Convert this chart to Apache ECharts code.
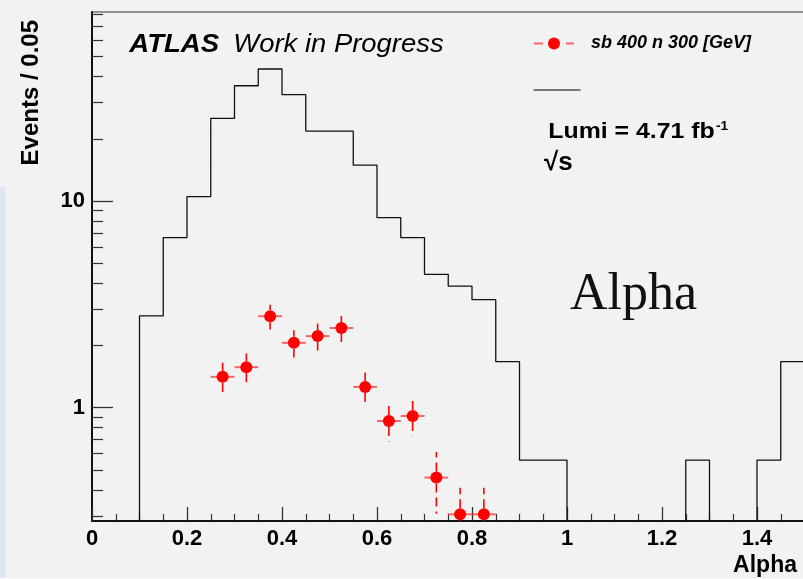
<!DOCTYPE html>
<html>
<head>
<meta charset="utf-8">
<script src="https://cdn.jsdelivr.net/npm/echarts@6/dist/echarts.min.js"></script>
<style>
html, body { margin: 0; padding: 0; background: #f2f2f2; }
#chart { width: 803px; height: 579px; }
</style>
</head>
<body>
<div id="chart"></div>
<script>
// Background histogram of Alpha: 0.05-wide bins starting at 0.1
const binStart = 0.1;
const binWidth = 0.05;
const bgCounts = [2.78, 6.65, 10.5, 25.1, 36.1, 43.5, 32.7, 21.8, 21.8, 14.9,
                  8.3, 6.65, 4.42, 3.87, 3.33, 1.67, 0.557, 0.557, 0, 0,
                  0, 0, 0, 0.557, 0, 0, 0.557, 1.67];

// Signal points (sb 400, n 300): bin centres, yields and errors
const sigX   = [0.275, 0.325, 0.375, 0.425, 0.475, 0.525, 0.575, 0.625, 0.675, 0.725, 0.775, 0.825];
const sigY   = [1.41, 1.57, 2.77, 2.06, 2.22, 2.43, 1.26, 0.862, 0.912, 0.459, 0.305, 0.305];
const sigErr = [0.24, 0.26, 0.38, 0.31, 0.33, 0.35, 0.22, 0.175, 0.184, 0.152, 0.105, 0.105];

// Axis ticks
const xLabelTicks = [0, 0.2, 0.4, 0.6, 0.8, 1, 1.2, 1.4];
const yMajorTicks = [1, 10];
const yMinorTicks = [0.3, 0.4, 0.5, 0.6, 0.7, 0.8, 0.9, 2, 3, 4, 5, 6, 7, 8, 9,
                     20, 30, 40, 50, 60, 70, 80];

const xMin = 0, xMax = 1.5;
const yMin = 0.283, yMax = 82.1;

const sigName = 'sb 400 n 300 [GeV]';
const bkgName = 'background';
const sansFont = '"Liberation Sans", Arial, sans-serif';

// minor x ticks every bin width, skipping labelled ones
const xMinorTicks = [];
for (let k = 1; k * binWidth < xMax - 1e-9; k++) {
  const v = +(k * binWidth).toFixed(3);
  if (!xLabelTicks.some(t => Math.abs(t - v) < 1e-9)) xMinorTicks.push(v);
}

// step outline; empty bins drop below the axis and are clipped
const histFloor = 0.1;
const histLine = [[binStart, histFloor]];
bgCounts.forEach((v, i) => {
  histLine.push([+(binStart + i * binWidth).toFixed(3), v > 0 ? v : histFloor]);
});
histLine.push([+(binStart + bgCounts.length * binWidth).toFixed(3),
               bgCounts[bgCounts.length - 1] > 0 ? bgCounts[bgCounts.length - 1] : histFloor]);

const xErrHalf = binWidth / 2;
const markerR = 6;

const chart = echarts.init(document.getElementById('chart'), null, { renderer: 'canvas' });

const option = {
  backgroundColor: '#f2f2f2',
  animation: false,
  grid: {
    left: 92, top: 12, width: 712.5, height: 509,
    show: true, borderColor: '#333', borderWidth: 1, backgroundColor: 'transparent',
    containLabel: false, outerBoundsMode: 'none'
  },
  xAxis: [
    {
      type: 'value', min: xMin, max: xMax, position: 'bottom',
      axisLine: { show: true, lineStyle: { color: '#111', width: 2 } },
      axisTick: { show: true, inside: true, length: 14, customValues: xLabelTicks,
                  lineStyle: { color: '#333', width: 1.3 } },
      axisLabel: { show: true, customValues: xLabelTicks, margin: 7, color: '#000',
                   fontFamily: sansFont, fontWeight: 'bold', fontSize: 22,
                   formatter: v => String(+v.toFixed(2)) },
      splitLine: { show: false },
      minorTick: { show: false },
      name: 'Alpha', nameLocation: 'end', nameGap: -7.5, nameMoveOverlap: false,
      nameTextStyle: { fontFamily: sansFont, fontWeight: 'bold', fontSize: 23, color: '#000',
                       align: 'right', verticalAlign: 'top', padding: [33, 0, 0, 0] }
    },
    {
      type: 'value', min: xMin, max: xMax, position: 'bottom', offset: 0,
      axisLine: { show: false },
      axisTick: { show: true, inside: true, length: 7, customValues: xMinorTicks,
                  lineStyle: { color: '#333', width: 1.2 } },
      axisLabel: { show: false },
      splitLine: { show: false }
    }
  ],
  yAxis: [
    {
      type: 'log', logBase: 10, min: yMin, max: yMax, position: 'left',
      axisLine: { show: true, lineStyle: { color: '#111', width: 2 } },
      axisTick: { show: true, inside: true, length: 21, customValues: yMajorTicks,
                  lineStyle: { color: '#333', width: 1.3 } },
      axisLabel: { show: true, customValues: yMajorTicks, margin: 7, color: '#000',
                   fontFamily: sansFont, fontWeight: 'bold', fontSize: 22,
                   padding: [6, 0, 0, 0], formatter: v => String(v) },
      splitLine: { show: false },
      minorTick: { show: false },
      name: 'Events / 0.05', nameLocation: 'end', nameRotate: 90, nameGap: -8,
      nameMoveOverlap: false,
      nameTextStyle: { fontFamily: sansFont, fontWeight: 'bold', fontSize: 24, color: '#000',
                       align: 'right', verticalAlign: 'bottom', padding: [0, 0, 49, 0] }
    },
    {
      type: 'log', logBase: 10, min: yMin, max: yMax, position: 'left', offset: 0,
      axisLine: { show: false },
      axisTick: { show: true, inside: true, length: 11, customValues: yMinorTicks,
                  lineStyle: { color: '#333', width: 1.2 } },
      axisLabel: { show: false },
      splitLine: { show: false }
    }
  ],
  legend: [
    {
      left: 533, top: 34.5, padding: 0, itemWidth: 40, itemHeight: 15, selectedMode: false,
      data: [{
        name: sigName,
        itemStyle: { color: '#ff0000', opacity: 1 },
        lineStyle: { color: 'rgba(255,40,40,0.7)', width: 2, type: [9, 23], opacity: 1 }
      }],
      textStyle: { fontFamily: sansFont, fontStyle: 'italic', fontWeight: 'bold',
                   fontSize: 18, color: '#000', padding: [0, 0, 0, 12] }
    },
    {
      left: 533, top: 82.5, padding: 0, itemWidth: 47, itemHeight: 15, selectedMode: false,
      data: [{
        name: bkgName,
        itemStyle: { opacity: 0 },
        lineStyle: { color: '#000', width: 1.2, opacity: 1 }
      }],
      formatter: () => ''
    }
  ],
  series: [
    {
      name: bkgName, type: 'line', step: 'end', xAxisIndex: 0, yAxisIndex: 0,
      data: histLine, symbol: 'none', clip: true, z: 3,
      lineStyle: { color: '#111', width: 1.3 },
      itemStyle: { color: '#111' },
      emphasis: { disabled: true }, silent: true
    },
    {
      name: 'errors', type: 'custom', xAxisIndex: 0, yAxisIndex: 0, z: 4, silent: true,
      data: sigX.map((x, i) => [x, sigY[i], sigErr[i]]),
      encode: { x: 0, y: 1 },
      renderItem: function (params, api) {
        const x = api.value(0), y = api.value(1), e = api.value(2);
        const c = api.coord([x, y]);
        const l = api.coord([x - xErrHalf, y]);
        const r = api.coord([x + xErrHalf, y]);
        const top = api.coord([x, y + e]);
        const bot = api.coord([x, Math.max(y - e, yMin)]);
        const children = [
          { type: 'line', shape: { x1: l[0], y1: c[1], x2: r[0], y2: c[1] },
            style: { stroke: 'rgba(255,40,40,0.7)', lineWidth: 2 } }
        ];
        if (top[1] < c[1] - markerR) {
          children.push({ type: 'line', shape: { x1: c[0], y1: c[1] - markerR, x2: c[0], y2: top[1] },
            style: { stroke: '#ff0000', lineWidth: 1.6, lineDash: [9, 5] } });
        }
        if (bot[1] > c[1] + markerR) {
          children.push({ type: 'line', shape: { x1: c[0], y1: c[1] + markerR, x2: c[0], y2: bot[1] },
            style: { stroke: '#ff0000', lineWidth: 1.6, lineDash: [9, 5] } });
        }
        return { type: 'group', children: children };
      }
    },
    {
      name: sigName, type: 'line', xAxisIndex: 0, yAxisIndex: 0, z: 5,
      data: sigX.map((x, i) => [x, sigY[i]]),
      symbol: 'circle', symbolSize: 12, showSymbol: true, showAllSymbol: true,
      itemStyle: { color: '#ff0000' },
      lineStyle: { width: 0, opacity: 0 },
      emphasis: { disabled: true }, silent: true
    }
  ],
  graphic: [
    { type: 'rect', shape: { x: 0, y: 187, width: 6, height: 392 },
      style: { fill: '#dfe6f1' }, silent: true },
    { type: 'rect', shape: { x: 0, y: 578, width: 803, height: 1 },
      style: { fill: '#fbfbfb' }, silent: true },
    { type: 'text', x: 129.3, y: 45.2, scaleX: 1.06, silent: true,
      style: { text: 'ATLAS', font: 'italic bold 26px ' + sansFont, fill: '#000', verticalAlign: 'middle' } },
    { type: 'text', x: 233.3, y: 45.2, scaleX: 1.055, silent: true,
      style: { text: 'Work in Progress', font: 'italic 26px ' + sansFont, fill: '#000', verticalAlign: 'middle' } },
    { type: 'text', x: 548.3, y: 132, scaleX: 1.13, silent: true,
      style: { text: 'Lumi = 4.71 fb', font: 'bold 22px ' + sansFont, fill: '#000', verticalAlign: 'middle' } },
    { type: 'text', x: 716, y: 126.2, scaleX: 1.1, silent: true,
      style: { text: '-1', font: 'bold 12.5px ' + sansFont, fill: '#000', verticalAlign: 'middle' } },
    { type: 'text', x: 544, y: 162.4, silent: true,
      style: { text: '√s', font: 'bold 26px ' + sansFont, fill: '#000', verticalAlign: 'middle' } },
    { type: 'text', x: 570, y: 295, silent: true,
      style: { text: 'Alpha', font: '52px "Liberation Serif", "Times New Roman", serif', fill: '#111', verticalAlign: 'middle' } }
  ]
};

chart.setOption(option);
</script>
</body>
</html>
